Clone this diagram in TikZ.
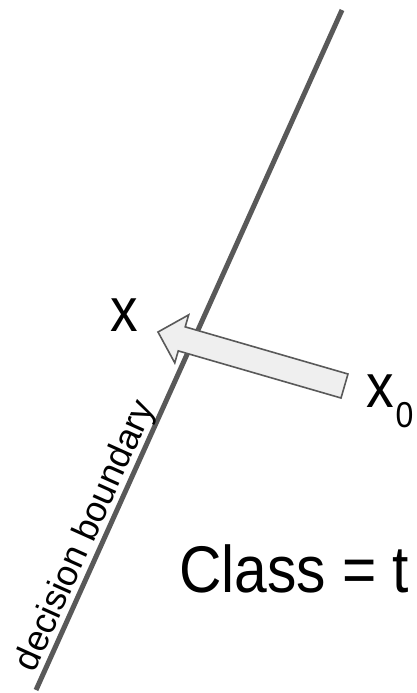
\documentclass[tikz,border=0pt]{standalone}
\usepackage{fontspec}
\setmainfont{Liberation Sans}
\usepackage{graphicx}
\usepackage{tikz}
\usetikzlibrary{calc}
\definecolor{cLine}{HTML}{595959}
\definecolor{cFill}{HTML}{EFEFEF}
\tikzset{
  bound/.style ={line width=5pt,cLine},
  fat/.style   ={line width=1.6pt,draw=cLine,fill=cFill,line join=miter},
  lbl/.style   ={inner sep=0pt,text=black,font=\fontsize{62}{62}\selectfont},
  blbl/.style  ={inner sep=0pt,text=black,text depth=0pt,font=\fontsize{36}{36}\selectfont},
}
\newcommand{\squash}[1]{\scalebox{0.89}[1]{#1}}
\begin{document}
\begin{tikzpicture}[x=1pt,y=-1pt]
\useasboundingbox (0,0) rectangle (416,693);
% decision boundary
\coordinate (btop) at (342,10);
\coordinate (bbot) at (36,690);
\draw[bound] (bbot) -- node[blbl,pos=.216,sloped,above=5.5pt] (blab) {decision boundary} (btop);
% labels
\node[lbl,anchor=base] (x) at (124,331) {\squash{x}};
\node[lbl,anchor=base west] (x0) at (366,407)
   {\squash{x\hspace{2pt}\raisebox{-20pt}{\fontsize{36}{36}\selectfont 0}}};
\node[lbl,anchor=base west,font=\fontsize{66}{66}\selectfont] (cls) at (179,592) {\squash{Class = t}};
% block arrow x0 -> x
\coordinate (tip) at (158,332);
\coordinate (tail) at (344.5,386);
\coordinate (hb) at ($(tip)!24.7pt!(tail)$);
\draw[fat] ($(hb)!25pt!90:(tip)$) -- (tip) -- ($(hb)!25pt!-90:(tip)$)
   -- ($(hb)!12.5pt!-90:(tip)$) -- ($(tail)!12.5pt!-90:(hb)$)
   -- ($(tail)!12.5pt!90:(hb)$) -- ($(hb)!12.5pt!90:(tip)$) -- cycle;
\end{tikzpicture}
\end{document}
